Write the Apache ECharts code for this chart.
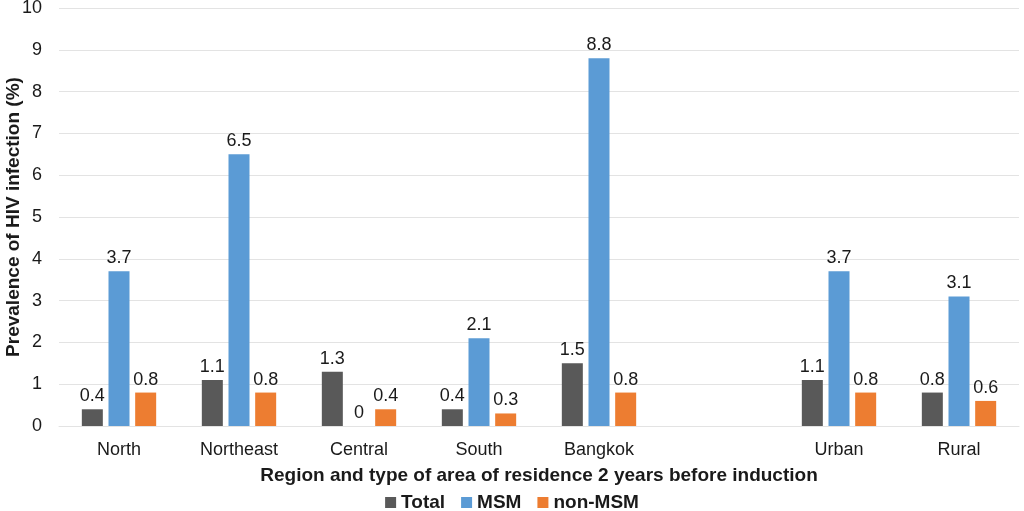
<!DOCTYPE html>
<html><head><meta charset="utf-8">
<script src="https://cdn.jsdelivr.net/npm/echarts@6/dist/echarts.min.js"></script>
<style>html,body{margin:0;padding:0;background:#fff}#c{width:1024px;height:511px}</style>
</head><body><div id="c"></div>
<script>
const categories = ['North', 'Northeast', 'Central', 'South', 'Bangkok', '', 'Urban', 'Rural'];
const totalValues = [0.4, 1.1, 1.3, 0.4, 1.5, '-', 1.1, 0.8];
const msmValues = [3.7, 6.5, 0, 2.1, 8.8, '-', 3.7, 3.1];
const nonMsmValues = [0.8, 0.8, 0.4, 0.3, 0.8, '-', 0.8, 0.6];
const yTicks = [0, 1, 2, 3, 4, 5, 6, 7, 8, 9, 10];

const font = '"Liberation Sans", Arial, Helvetica, sans-serif';
const chart = echarts.init(document.getElementById('c'), null, {renderer: 'canvas'});
const lbl = {show: true, position: 'top', distance: 4, color: '#1a1a1a', fontSize: 18, fontFamily: font};
function ser(name, data, color) {
  return {name, type: 'bar', data, barWidth: 21, barGap: '27%', itemStyle: {color}, label: lbl, emphasis: {disabled: true}};
}
chart.setOption({
  animation: false,
  textStyle: {fontFamily: font},
  grid: {left: 59, right: 5, top: 8, bottom: 85, containLabel: false, outerBoundsMode: 'none'},
  legend: {
    top: 488, left: 'center', itemWidth: 11, itemHeight: 11, itemGap: 16,
    icon: 'rect',
    textStyle: {fontSize: 19, fontWeight: 'bold', color: '#1a1a1a', fontFamily: font},
    data: ['Total', 'MSM', 'non-MSM']
  },
  xAxis: {
    type: 'category', data: categories,
    axisLine: {show: true, lineStyle: {color: '#e3e3e3'}},
    axisTick: {show: false},
    axisLabel: {color: '#1a1a1a', fontSize: 18, margin: 15, fontFamily: font, interval: 0},
    name: 'Region and type of area of residence 2 years before induction',
    nameLocation: 'middle', nameGap: 40, nameMoveOverlap: false,
    nameTextStyle: {fontSize: 19, fontWeight: 'bold', color: '#1a1a1a', fontFamily: font}
  },
  yAxis: {
    type: 'value', min: yTicks[0], max: yTicks[yTicks.length - 1], interval: 1,
    axisLine: {show: false}, axisTick: {show: false},
    splitLine: {lineStyle: {color: '#e3e3e3'}},
    axisLabel: {color: '#1a1a1a', fontSize: 18, margin: 17, fontFamily: font},
    name: 'Prevalence of HIV infection (%)',
    nameLocation: 'middle', nameGap: 36, nameRotate: 90, nameMoveOverlap: false,
    nameTextStyle: {fontSize: 19, fontWeight: 'bold', color: '#1a1a1a', fontFamily: font}
  },
  series: [
    ser('Total', totalValues, '#595959'),
    ser('MSM', msmValues, '#5B9BD5'),
    ser('non-MSM', nonMsmValues, '#ED7D31')
  ]
});
</script></body></html>
